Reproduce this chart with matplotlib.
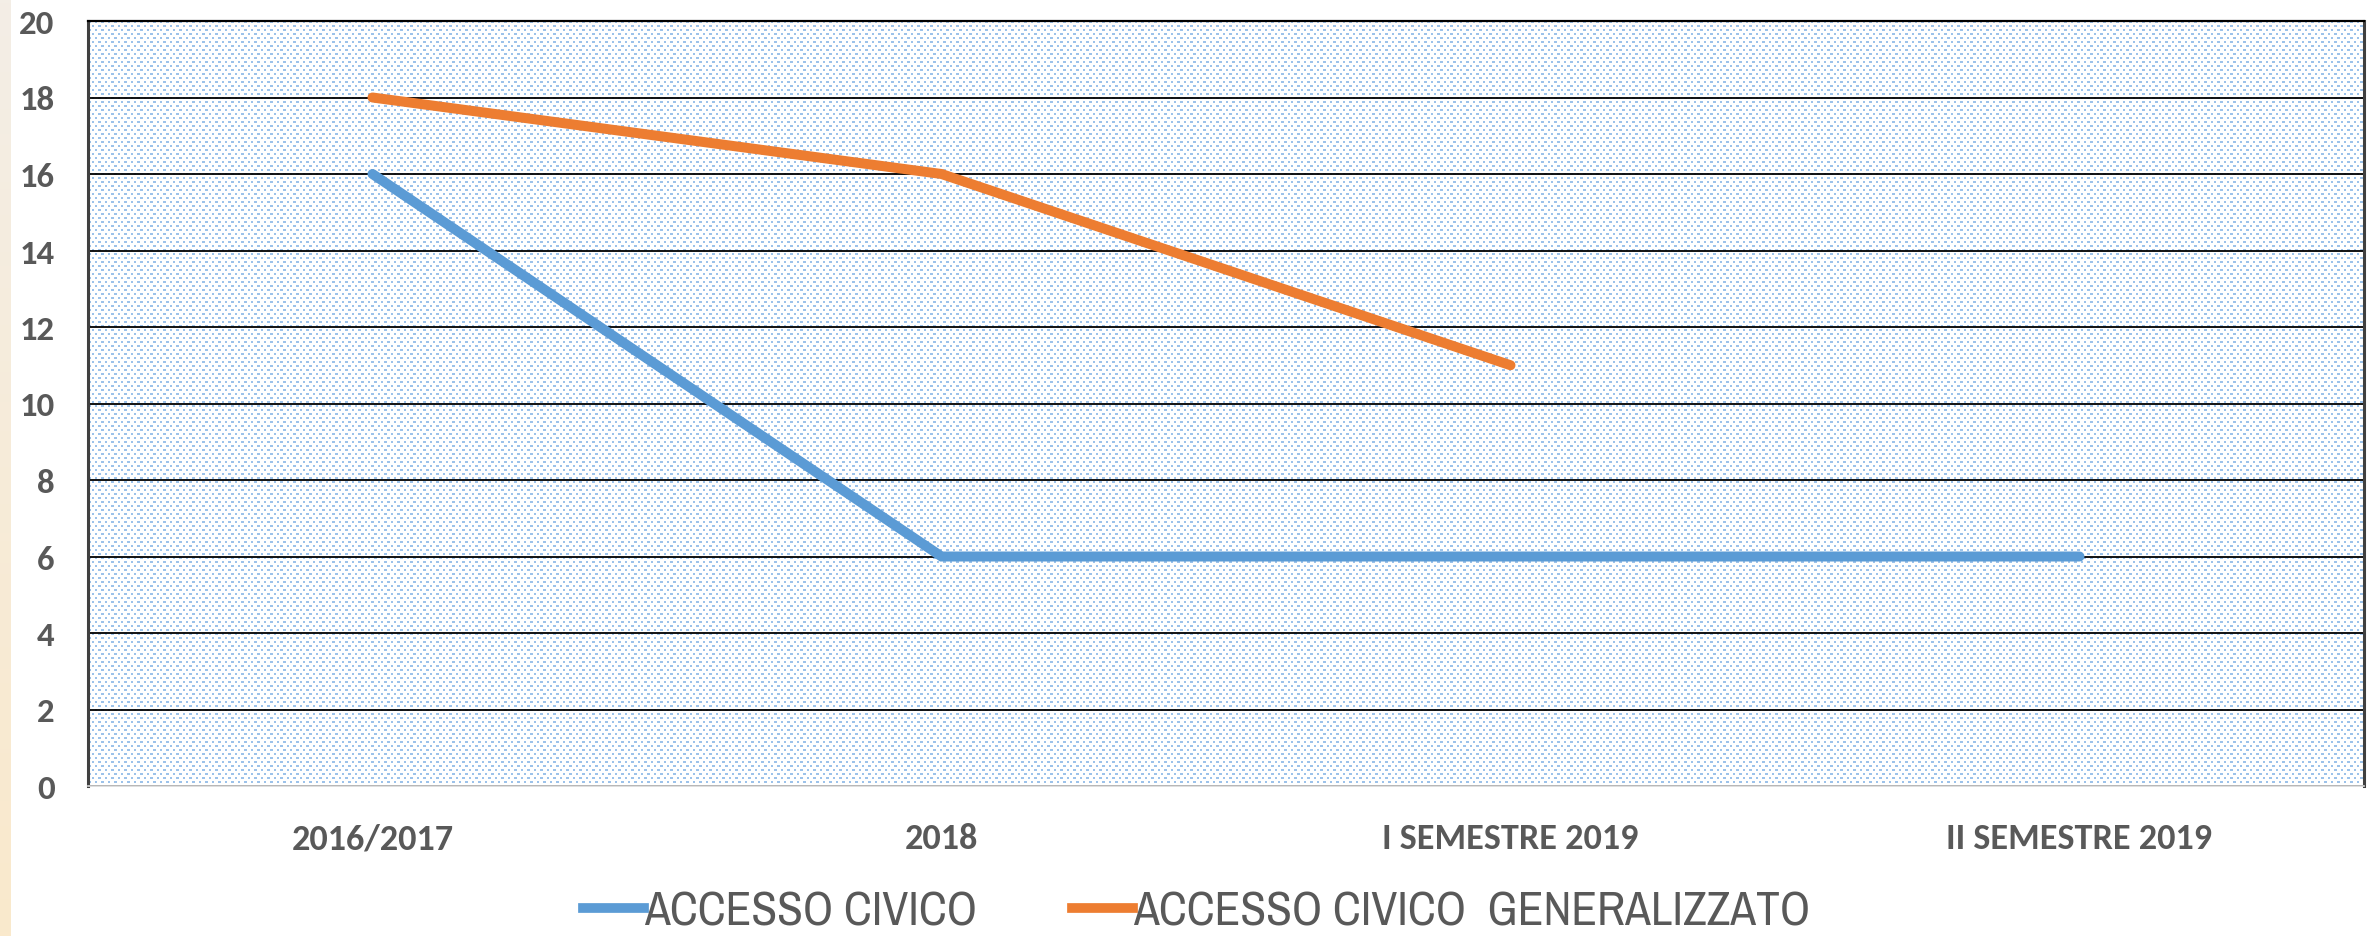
import numpy as np
import matplotlib
matplotlib.use("Agg")
import matplotlib.pyplot as plt
from matplotlib.lines import Line2D
from matplotlib import font_manager as fm
from matplotlib.font_manager import FontProperties

categories = ["2016/2017", "2018", "I SEMESTRE 2019", "II SEMESTRE 2019"]
accesso_civico = [16, 6, 6, 6]
accesso_generalizzato = [18, 16, 11, np.nan]
series_names = ["ACCESSO CIVICO", "ACCESSO CIVICO  GENERALIZZATO"]
yticks = list(range(0, 21, 2))

BLUE = "#5b9bd5"
ORANGE = "#ed7d31"
GRAY = "#595959"

try:
    fm.findfont(FontProperties(family="Carlito", weight="bold"), fallback_to_default=False)
    TICKFONT, XSIZE, YSIZE = "Carlito", 26, 25
except Exception:
    TICKFONT, XSIZE, YSIZE = "Lato", 23, 22

W, H = 2374, 937
fig = plt.figure(figsize=(W / 100, H / 100), dpi=100)
fig.patch.set_facecolor("white")

# left beige strip
strip = fig.add_axes([0, 0, 11 / W, 1])
grad = np.linspace(0, 1, 256)[:, None]
top = np.array([243, 238, 230]) / 255
bot = np.array([250, 233, 204]) / 255
img = top[None, None, :] * (1 - grad[:, :, None]) + bot[None, None, :] * grad[:, :, None]
strip.imshow(img, aspect="auto", extent=(0, 1, 0, 1))
strip.axis("off")

left, right, bottom_px, top_px = 88, 2364, 787, 22
ax = fig.add_axes([left / W, 1 - bottom_px / H, (right - left) / W, (bottom_px - top_px) / H])

# dotted background pattern
pw, ph = right - left, bottom_px - top_px
pat = np.ones((ph, pw, 3))
dot = np.array([156, 194, 234]) / 255
yy, xx = np.mgrid[0:ph, 0:pw]
row = yy // 4
mask = ((yy % 4) < 2) & (((xx + (row % 2) * 3.25) % 6.5) < 2.5)
pat[mask] = dot
ax.imshow(pat, extent=(0, 1, 0, 1), transform=ax.transAxes, aspect="auto",
          interpolation="nearest", zorder=0)

x = np.arange(len(categories))
ax.plot(x, accesso_civico, color=BLUE, lw=7.2, solid_capstyle="round",
        solid_joinstyle="miter", zorder=3)
ax.plot(x, accesso_generalizzato, color=ORANGE, lw=7.2, solid_capstyle="round",
        solid_joinstyle="miter", zorder=3)

ax.set_xlim(-0.5, len(categories) - 0.5)
ax.set_ylim(0, 20)
ax.set_yticks(yticks)
ax.set_xticks(x)
ax.set_xticklabels(categories)
ax.yaxis.grid(True, color="black", lw=1.3, zorder=1)
ax.set_axisbelow(False)
for gl in ax.get_ygridlines():
    gl.set_zorder(1)
ax.tick_params(axis="both", length=0)
ax.tick_params(axis="y", pad=24)
ax.tick_params(axis="x", pad=26)
for lab in ax.get_yticklabels():
    lab.set_fontfamily([TICKFONT, "DejaVu Sans"])
    lab.set_fontweight("bold")
    lab.set_fontsize(YSIZE)
    lab.set_color(GRAY)
for lab in ax.get_xticklabels():
    lab.set_fontfamily([TICKFONT, "DejaVu Sans"])
    lab.set_fontweight("bold")
    lab.set_fontsize(XSIZE)
    lab.set_color(GRAY)

ax.spines["left"].set_color("#404040")
ax.spines["left"].set_linewidth(2.2)
ax.spines["right"].set_color("#404040")
ax.spines["right"].set_linewidth(2.2)
ax.spines["top"].set_color("black")
ax.spines["top"].set_linewidth(1.6)
ax.spines["bottom"].set_color("#d9d9d9")
ax.spines["bottom"].set_linewidth(1.2)
for s in ax.spines.values():
    s.set_zorder(4)

handles = [Line2D([0], [0], color=BLUE, lw=7),
           Line2D([0], [0], color=ORANGE, lw=7)]
leg = fig.legend(handles, series_names, loc="center", bbox_to_anchor=(0.504, 1 - 912 / H),
                 ncol=2, frameon=False, handlelength=1.3, handletextpad=0.0,
                 columnspacing=2.0,
                 prop={"family": ["Archivo Narrow", "DejaVu Sans"], "size": 34})
for t in leg.get_texts():
    t.set_color(GRAY)

fig.savefig("out.png", dpi=100)
